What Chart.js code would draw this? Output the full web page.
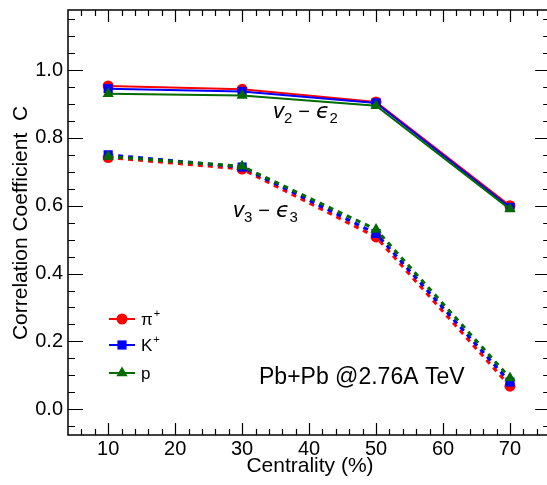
<!DOCTYPE html>
<html lang="en">
<head>
<meta charset="UTF-8">
<title>Correlation Coefficient vs Centrality</title>
<script src="https://cdn.jsdelivr.net/npm/chart.js"></script>
<style>
  body { margin: 0; background: #fff; }
  #wrap { width: 547px; height: 485px; }
</style>
</head>
<body>
<div id="wrap"><canvas id="c" width="547" height="485"></canvas></div>
<script>
// centrality bins (%)
const centrality = [10, 30, 50, 70];

// v2 - eps2 correlation
const v2Pion = [0.953, 0.943, 0.906, 0.600];
const v2Kaon = [0.945, 0.937, 0.903, 0.595];
const v2Proton = [0.930, 0.925, 0.895, 0.590];

// v3 - eps3 correlation
const v3Pion = [0.742, 0.708, 0.508, 0.068];
const v3Kaon = [0.750, 0.714, 0.518, 0.080];
const v3Proton = [0.745, 0.716, 0.530, 0.092];

const xTicks = [10, 20, 30, 40, 50, 60, 70];
const yTicks = [0.0, 0.2, 0.4, 0.6, 0.8, 1.0];

const species = [
  { label: 'π', sup: '+', color: '#ff0000', point: 'circle', radius: 5.5, order: 3 },
  { label: 'K', sup: '+', color: '#0000ff', point: 'rect', radius: 6.5, order: 2 },
  { label: 'p', sup: '', color: '#006b00', point: 'triangle', radius: 6.5, order: 1 }
];
const v2Data = [v2Pion, v2Kaon, v2Proton];
const v3Data = [v3Pion, v3Kaon, v3Proton];

function toXY(vals) {
  return vals.map((v, i) => ({ x: centrality[i], y: v }));
}

const datasets = [];
species.forEach((s, i) => {
  const base = {
    borderColor: s.color, backgroundColor: s.color,
    pointStyle: s.point, pointRadius: s.radius, pointHoverRadius: s.radius,
    pointBorderWidth: 0, order: s.order, tension: 0
  };
  datasets.push(Object.assign({}, base, { label: s.label + ' v2', data: toXY(v2Data[i]), borderWidth: 2 }));
  datasets.push(Object.assign({}, base, { label: s.label + ' v3', data: toXY(v3Data[i]), borderWidth: 3, borderDash: [5, 5] }));
});

const FONT = '"Liberation Sans", Arial, sans-serif';

function marker(ctx, style, x, y, r) {
  ctx.beginPath();
  if (style === 'circle') {
    ctx.arc(x, y, r, 0, Math.PI * 2);
  } else if (style === 'rect') {
    const h = r * Math.SQRT1_2;
    ctx.rect(x - h, y - h, 2 * h, 2 * h);
  } else {
    ctx.moveTo(x, y - r);
    ctx.lineTo(x + r * Math.sin(Math.PI / 3), y + r * 0.5);
    ctx.lineTo(x - r * Math.sin(Math.PI / 3), y + r * 0.5);
    ctx.closePath();
  }
  ctx.fill();
}

// v_n - eps_n label, italic symbols with subscripts
function corrLabel(ctx, n, x, y) {
  ctx.fillStyle = '#000';
  ctx.textBaseline = 'alphabetic';
  ctx.textAlign = 'left';
  ctx.font = 'italic 22px ' + FONT;
  ctx.fillText('v', x, y);
  x += ctx.measureText('v').width;
  ctx.font = '15px ' + FONT;
  ctx.fillText(n, x, y + 5);
  x += ctx.measureText(n).width + 6;
  ctx.font = '20px ' + FONT;
  ctx.fillText('−', x, y);
  x += ctx.measureText('−').width + 6;
  ctx.font = 'italic 22px "DejaVu Sans", ' + FONT;
  ctx.fillText('ϵ', x, y);
  x += ctx.measureText('ϵ').width;
  ctx.font = '15px ' + FONT;
  ctx.fillText(n, x, y + 5);
}

const framePlugin = {
  id: 'frame',
  afterDraw(chart) {
    const ctx = chart.ctx;
    const xs = chart.scales.x, ys = chart.scales.y;
    const L = chart.chartArea.left, T = chart.chartArea.top, B = chart.chartArea.bottom;
    const R = xs.getPixelForValue(76);
    ctx.save();
    ctx.strokeStyle = '#000';
    ctx.lineWidth = 1.5;
    ctx.strokeRect(L, T, R - L, B - T);
    ctx.lineWidth = 1.2;
    ctx.beginPath();
    // y ticks, left and right
    for (let k = -1; k <= 23; k++) {
      const v = k * 0.05;
      const py = Math.round(ys.getPixelForValue(v)) + 0.5;
      if (py < T + 1 || py > B - 1) continue;
      const len = (k % 4 === 0) ? 15 : 7;
      ctx.moveTo(L, py); ctx.lineTo(L + len, py);
      ctx.moveTo(R, py); ctx.lineTo(R - len, py);
    }
    // x ticks, bottom and top
    for (let v = 6; v <= 74; v += 2) {
      const px = Math.round(xs.getPixelForValue(v)) + 0.5;
      const len = (v % 10 === 0) ? 12 : 6;
      ctx.moveTo(px, B); ctx.lineTo(px, B - len);
      ctx.moveTo(px, T); ctx.lineTo(px, T + len);
    }
    ctx.stroke();

    // axis titles
    ctx.fillStyle = '#000';
    ctx.font = '21px ' + FONT;
    ctx.textAlign = 'center';
    ctx.textBaseline = 'middle';
    ctx.fillText('Centrality (%)', 310, 466);
    ctx.save();
    ctx.translate(21, 223);
    ctx.rotate(-Math.PI / 2);
    ctx.fillText('Correlation Coefficient  C', 0, 0);
    ctx.restore();

    // legend
    const legY = [319, 345, 373];
    species.forEach((s, i) => {
      ctx.strokeStyle = s.color;
      ctx.fillStyle = s.color;
      ctx.lineWidth = 2;
      ctx.beginPath();
      ctx.moveTo(109, legY[i]); ctx.lineTo(135, legY[i]);
      ctx.stroke();
      marker(ctx, s.point, 122, legY[i], s.radius);
      ctx.fillStyle = '#000';
      ctx.textAlign = 'left';
      ctx.textBaseline = 'middle';
      ctx.font = '17px ' + FONT;
      ctx.fillText(s.label, 141, legY[i] + 1);
      if (s.sup) {
        const w = ctx.measureText(s.label).width;
        ctx.font = '11px ' + FONT;
        ctx.fillText(s.sup, 141 + w + 1, legY[i] - 5);
      }
    });

    // annotations
    corrLabel(ctx, '2', 273, 118);
    corrLabel(ctx, '3', 233, 217);
    ctx.fillStyle = '#000';
    ctx.font = '23px ' + FONT;
    ctx.textAlign = 'left';
    ctx.textBaseline = 'alphabetic';
    ctx.fillText('Pb+Pb @2.76A TeV', 259, 384);
    ctx.restore();
  }
};

function noPad(s) {
  s.paddingTop = 0; s.paddingBottom = 0; s.paddingLeft = 0; s.paddingRight = 0;
}

new Chart(document.getElementById('c'), {
  type: 'line',
  data: { datasets },
  options: {
    responsive: false,
    animation: false,
    layout: { autoPadding: false, padding: { top: 10, right: 0, bottom: 0, left: 0 } },
    plugins: { legend: { display: false }, tooltip: { enabled: false } },
    scales: {
      x: {
        type: 'linear', min: 4, max: 75.53,
        afterFit(s) { s.height = 50; noPad(s); },
        afterBuildTicks(s) { s.ticks = xTicks.map(v => ({ value: v })); },
        grid: { display: false, drawTicks: false },
        border: { display: false },
        ticks: { color: '#000', padding: 2, font: { family: FONT, size: 20 }, maxRotation: 0 }
      },
      y: {
        type: 'linear', min: -0.076, max: 1.177,
        afterFit(s) { s.width = 68; noPad(s); },
        afterBuildTicks(s) { s.ticks = yTicks.map(v => ({ value: v })); },
        grid: { display: false, drawTicks: false },
        border: { display: false },
        ticks: { color: '#000', padding: 5, font: { family: FONT, size: 20 },
                 callback: v => v.toFixed(1) }
      }
    }
  },
  plugins: [framePlugin]
});
</script>
</body>
</html>
